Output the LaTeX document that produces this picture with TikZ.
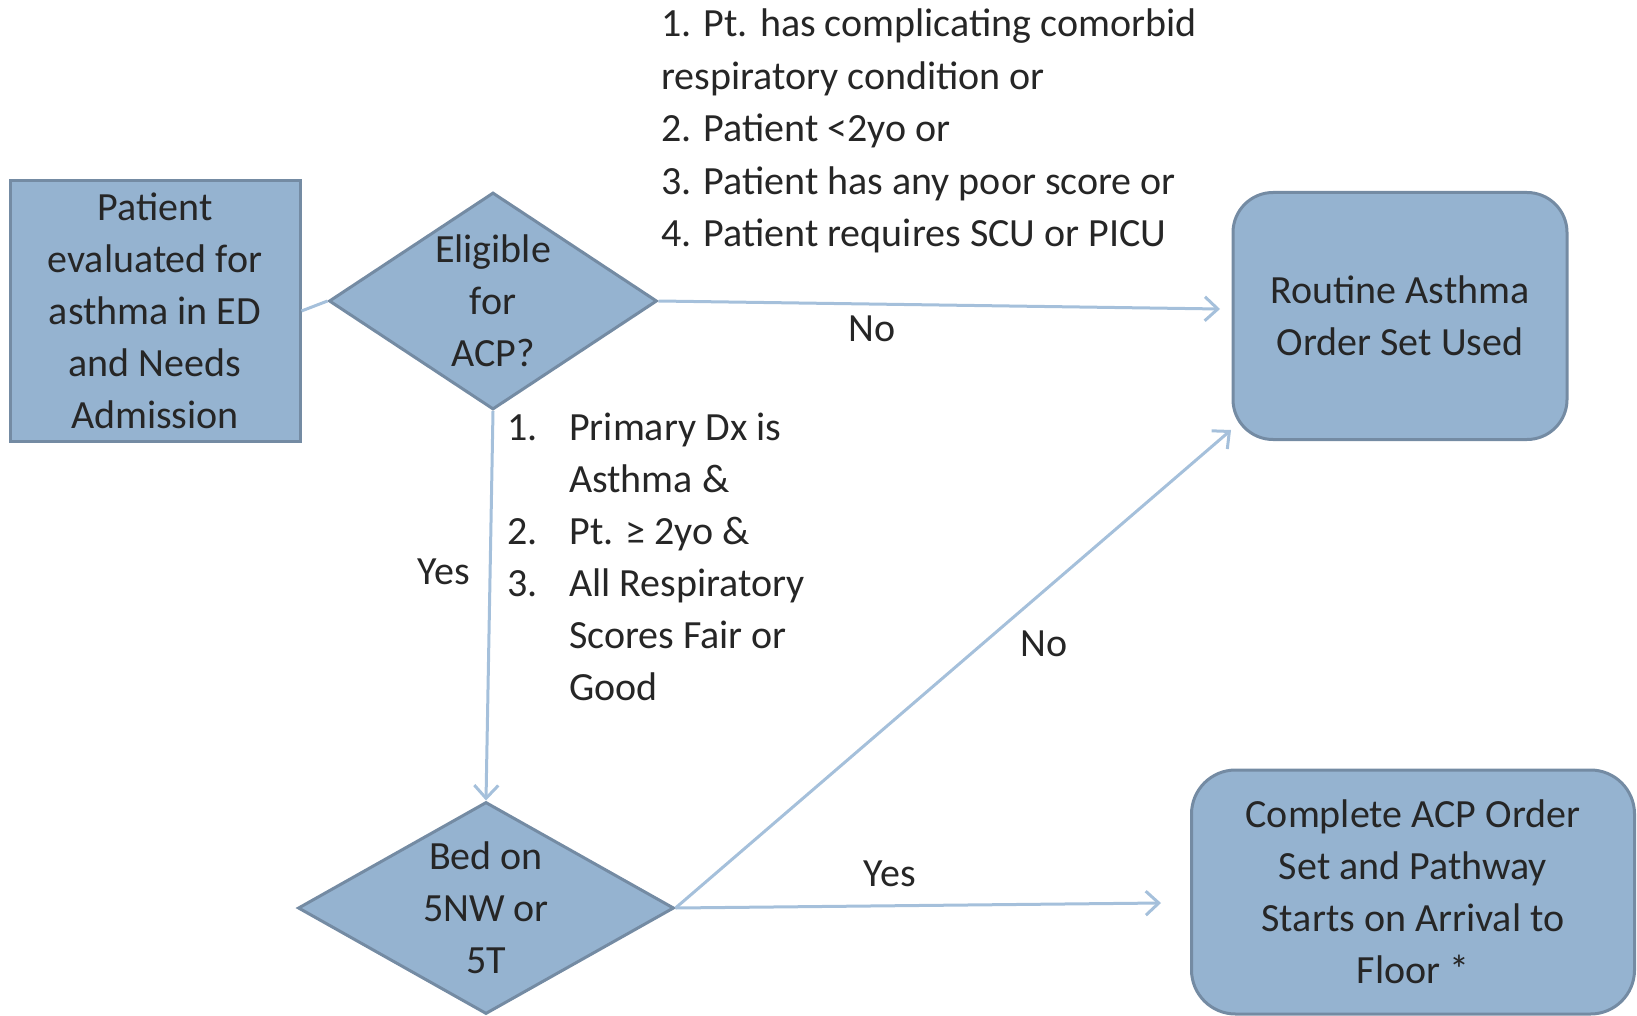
\documentclass[tikz,border=0pt]{standalone}
\usepackage{fontspec}
\setmainfont{Carlito}
\usetikzlibrary{arrows.meta}
\usetikzlibrary{shapes.geometric}
\definecolor{boxblue}{RGB}{149,179,208}
\definecolor{boxline}{RGB}{116,139,163}
\definecolor{flowblue}{RGB}{165,192,219}

\begin{document}
\begin{tikzpicture}[x=1pt,y=-1pt,
every node/.style={font=\fontsize{40}{52}\selectfont,text=black!85,inner sep=0pt},
box/.style={draw=boxline,line width=3pt,fill=boxblue,align=center},
choice/.style={box,diamond},
flow/.style={draw=flowblue,line width=3pt,-{Straight Barb[length=13pt,width=24pt]}}]
\useasboundingbox (0,0) rectangle (1637,1016);

\node[box,minimum width=290,minimum height=260] (start) at (155,311)
{Patient\\evaluated for\\asthma in ED\\and Needs\\Admission};
\node[choice,minimum width=328,minimum height=217] (elig) at (493,301) {};
\node[align=center] (eligtxt) at (elig) {Eligible\\for\\ACP?};
\node[choice,minimum width=376,minimum height=212] (bed) at (486,908) {};
\node[align=center] (bedtxt) at (bed) {Bed on\\5NW or\\5T};
\node[box,rounded corners=40,minimum width=334,minimum height=247] (routine) at (1400,316)
{Routine Asthma\\Order Set Used};
\node[box,rounded corners=44,minimum width=443,minimum height=244] (complete) at (1413,892)
{Complete ACP Order\\Set and Pathway\\Starts on Arrival to\\Floor *};

\foreach \t [count=\i] in
{
1. Pt. has complicating comorbid, respiratory condition or,
2. Patient <2yo or, 3. Patient has any poor score or,
4. Patient requires SCU or PICU
}
{
\node[anchor=base west] (notacp\i) at (661,{37+52.5*(\i-1)}) {\t};
}
\foreach \n/\y in {1/440, 2/544, 3/596}
{
\node[anchor=base west] (num\n) at (507,\y) {\n.};
}
\foreach \t [count=\i] in
{
Primary Dx is, Asthma \&, Pt. ≥ 2yo \&,
All Respiratory, Scores Fair or, Good
}
{
\node[anchor=base west] (isacp\i) at (569,{440+52*(\i-1)}) {\t};
}

\coordinate (endno) at (1220,309);
\coordinate (endyes) at (1161,903);
\coordinate (endback) at (1231,430);

\draw[flowblue,line width=3pt] (start.east) -- (elig.west);
\draw[flow] (elig.east) -- (endno);
\draw[flow] (elig.south) -- (bed.north);
\draw[flow] (bed.east) -- (endyes);
\draw[flow] (bed.east) -- (endback);

\node (lno1) at (872,329) {No};
\node (lyes1) at (444,572) {Yes};
\node (lyes2) at (890,874) {Yes};
\node (lno2) at (1044,644) {No};
\end{tikzpicture}
\end{document}
